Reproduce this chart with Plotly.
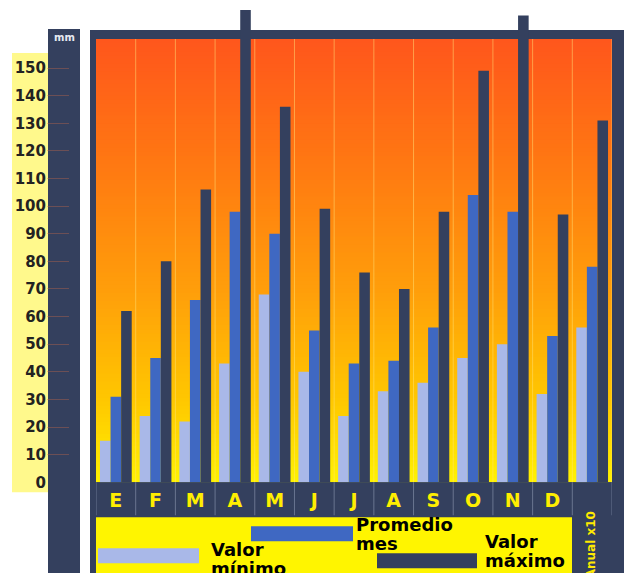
import plotly.graph_objects as go

# ---------------- data ----------------
months = ["E", "F", "M", "A", "M", "J", "J", "A", "S", "O", "N", "D", "Anual x10"]
valor_minimo = [15, 24, 22, 43, 68, 40, 24, 33, 36, 45, 50, 32, 56]
promedio_mes = [31, 45, 66, 98, 90, 55, 43, 44, 56, 104, 98, 53, 78]
valor_maximo = [62, 80, 106, 171, 136, 99, 76, 70, 98, 149, 169, 97, 131]
y_ticks = list(range(0, 151, 10))
tick_text = months[:12] + [""]

K = 1 / 0.984            # vertical compensation of the photographed page
W, H = 624, round(573 * K)
NAVY = "#34405E"
LIGHT = "#A9B8E8"
BLUE = "#3F68C2"
YELLOW = "#FFF500"


def fx(p):
    return p / W


def fy(p):
    return max(0.0, min(1.0, 1 - p * K / H))


Y_TOP = 482 / 2.76       # value at the top edge of the figure
ORANGE_TOP = 160.5
x_idx = list(range(len(months)))

GRAD = [(0.0, (255, 242, 0)), (0.18, (255, 200, 0)), (0.42, (255, 160, 10)),
        (0.72, (255, 120, 18)), (1.0, (255, 86, 28))]


def grad_color(t):
    for (t0, c0), (t1, c1) in zip(GRAD[:-1], GRAD[1:]):
        if t0 <= t <= t1:
            f = (t - t0) / (t1 - t0)
            c = [round(a + (b - a) * f) for a, b in zip(c0, c1)]
            return "rgb(%d,%d,%d)" % tuple(c)
    return "rgb(%d,%d,%d)" % GRAD[-1][1]


fig = go.Figure()
fig.add_trace(go.Bar(x=x_idx, y=valor_minimo, name="Valor mínimo",
                     marker=dict(color=LIGHT, line_width=0), hoverinfo="skip"))
fig.add_trace(go.Bar(x=x_idx, y=promedio_mes, name="Promedio mes",
                     marker=dict(color=BLUE, line_width=0), hoverinfo="skip"))
fig.add_trace(go.Bar(x=x_idx, y=valor_maximo, name="Valor máximo",
                     marker=dict(color=NAVY, line_width=0), hoverinfo="skip"))

shapes = []
# navy frame
shapes.append(dict(type="rect", xref="paper", yref="paper", x0=fx(90), x1=fx(624),
                   y0=fy(573), y1=fy(30), fillcolor=NAVY, line_width=0, layer="below"))
# gradient background (thin strips)
N = 110
for k in range(N):
    y0 = ORANGE_TOP * k / N
    y1 = ORANGE_TOP * (k + 1) / N + 0.3
    shapes.append(dict(type="rect", xref="x", yref="y", x0=-0.5, x1=12.5,
                       y0=y0, y1=min(y1, ORANGE_TOP),
                       fillcolor=grad_color((k + 0.5) / N), line_width=0, layer="below"))
# left navy column and pale yellow strip
shapes.append(dict(type="rect", xref="paper", yref="paper", x0=fx(48), x1=fx(80),
                   y0=fy(573), y1=fy(29), fillcolor=NAVY, line_width=0, layer="below"))
shapes.append(dict(type="rect", xref="paper", yref="paper", x0=fx(12), x1=fx(48),
                   y0=fy(492), y1=fy(53), fillcolor="#FFF98C", line_width=0, layer="below"))
# legend box
shapes.append(dict(type="rect", xref="paper", yref="paper", x0=fx(96), x1=fx(572),
                   y0=fy(573), y1=fy(517), fillcolor=YELLOW, line_width=0, layer="below"))
# separators
for i in range(13):
    shapes.append(dict(type="line", xref="x", yref="y", x0=i + 0.5, x1=i + 0.5,
                       y0=0, y1=ORANGE_TOP, line=dict(color="rgba(255,228,120,0.5)", width=1),
                       layer="below"))
for i in range(14):
    shapes.append(dict(type="line", xref="x", yref="paper", x0=i - 0.5, x1=i - 0.5,
                       y0=fy(515), y1=fy(482), line=dict(color="rgba(150,160,185,0.55)", width=1),
                       layer="above"))
# legend swatches
shapes.append(dict(type="rect", xref="paper", yref="paper", x0=fx(98), x1=fx(199),
                   y0=fy(563), y1=fy(548), fillcolor=LIGHT, line_width=0))
shapes.append(dict(type="rect", xref="paper", yref="paper", x0=fx(251), x1=fx(353),
                   y0=fy(541), y1=fy(526), fillcolor=BLUE, line_width=0))
shapes.append(dict(type="rect", xref="paper", yref="paper", x0=fx(377), x1=fx(477),
                   y0=fy(568), y1=fy(553), fillcolor=NAVY, line_width=0))

LEG_FONT = dict(family="DejaVu Sans", size=18, color="#000000", weight="bold")
annotations = []


def txt(s, x, y, **kw):
    d = dict(text=s, xref="paper", yref="paper", x=fx(x), y=fy(y), showarrow=False,
             xanchor="left", yanchor="middle", font=LEG_FONT, borderpad=0)
    d.update(kw)
    annotations.append(d)


txt("Valor", 210, 549)
txt("mínimo", 210, 568)
txt("Promedio", 355, 524)
txt("mes", 355, 543)
txt("Valor", 484, 541)
txt("máximo", 484, 560)
annotations.append(dict(text="Anual x10", xref="paper", yref="paper", x=fx(591), y=fy(545),
                        showarrow=False, textangle=-90, xanchor="center", yanchor="middle",
                        font=dict(family="DejaVu Sans", size=12, color="#FFEA00", weight="bold")))
annotations.append(dict(text="mm", xref="paper", yref="paper", x=fx(64), y=fy(37),
                        showarrow=False, xanchor="center", yanchor="middle",
                        font=dict(family="DejaVu Sans", size=10, color="#E6E9F2", weight="bold")))

fig.update_layout(
    width=W, height=H, margin=dict(l=0, r=0, t=0, b=0),
    paper_bgcolor="white", plot_bgcolor="rgba(0,0,0,0)",
    barmode="group", bargap=0.2, bargroupgap=0,
    showlegend=False, shapes=shapes, annotations=annotations,
    xaxis=dict(domain=[fx(96), fx(612)], range=[-0.5, 12.5], tickvals=x_idx, ticktext=tick_text,
               showgrid=False, zeroline=False, showline=False, ticks="", ticklabelstandoff=5,
               tickfont=dict(family="DejaVu Sans", size=19, color="#FFEE00", weight="bold")),
    yaxis=dict(domain=[fy(482), 1.0], range=[0, Y_TOP], tickvals=y_ticks,
               anchor="free", position=fx(46), showgrid=False, zeroline=False, showline=False,
               ticks="inside", ticklen=22, tickcolor="rgba(215,110,70,0.35)", tickwidth=1,
               tickfont=dict(family="DejaVu Sans", size=15, color="#222222", weight="bold")),
)

fig.write_html("out.html", config={"displayModeBar": False},
               post_script="document.body.style.margin='0';document.body.style.overflow='hidden';")
